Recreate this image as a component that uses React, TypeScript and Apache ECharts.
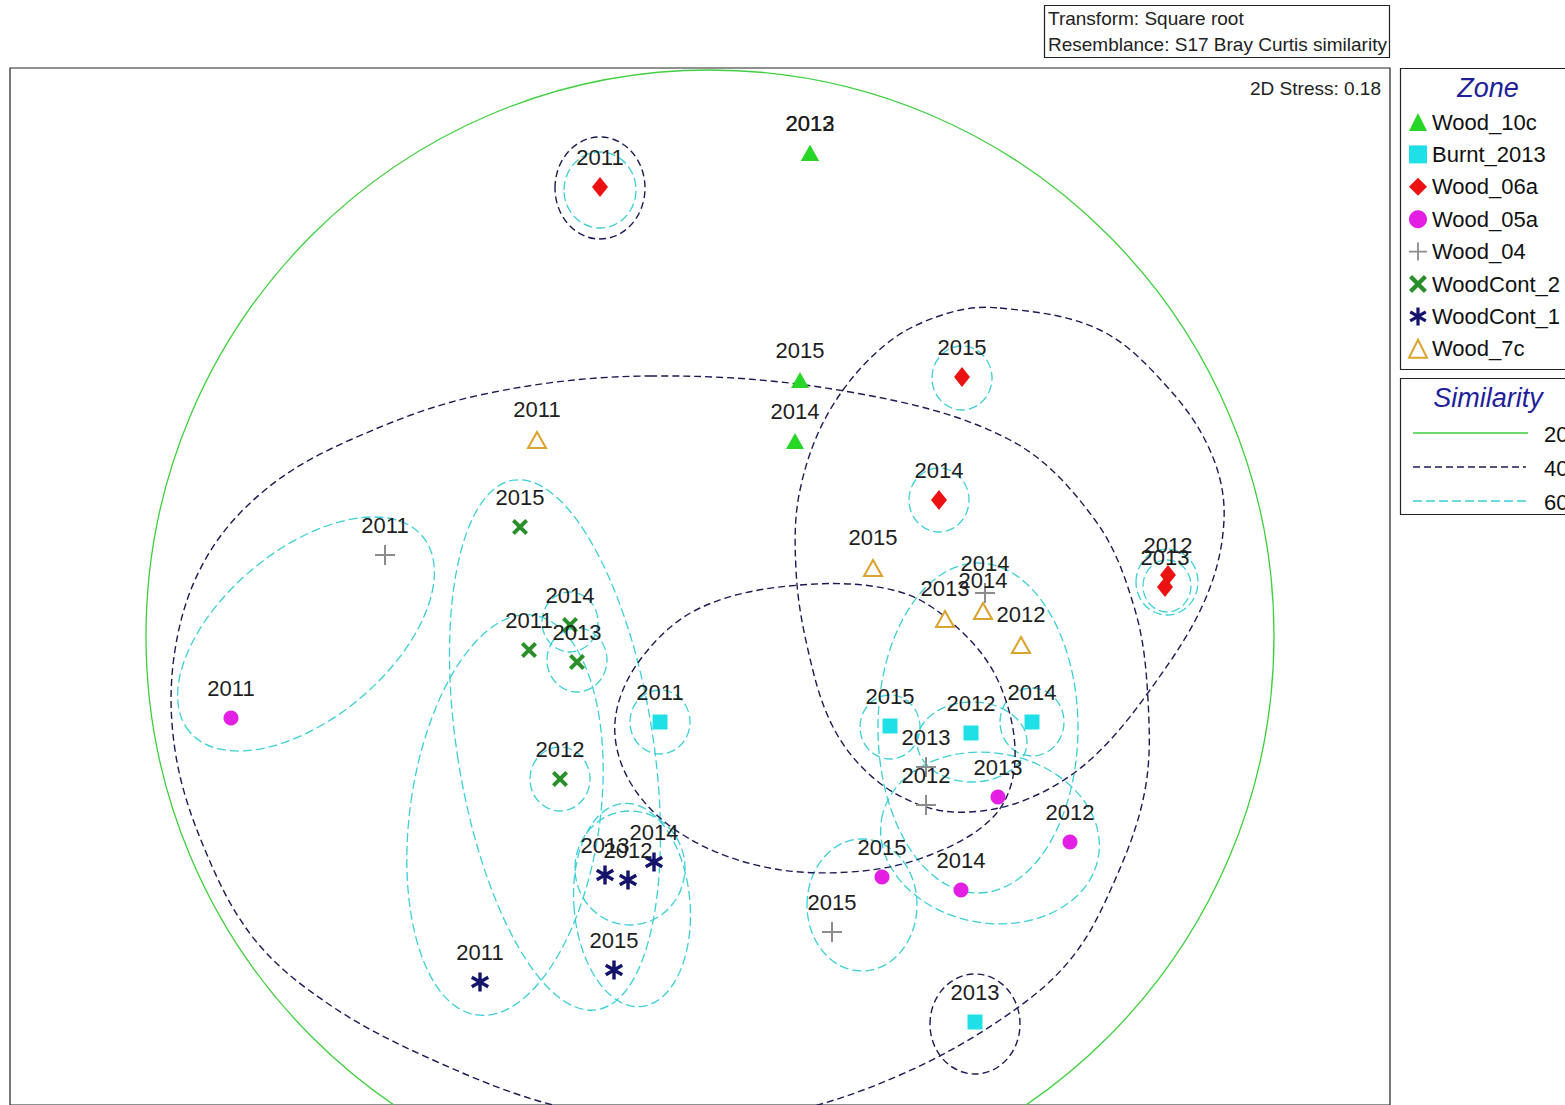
import React, { useEffect, useRef } from "react";
import * as echarts from "echarts";

const FONT = "'Liberation Sans', Arial, sans-serif";

// ---- sample points: [x, y, year] (positions) ----
const WOOD_10C = [[810, 153, "2012"], [810, 153, "2013"], [800, 380, "2015"], [795, 441, "2014"]];
const BURNT_2013 = [[660, 722, "2011"], [890, 726, "2015"], [971, 733, "2012"], [1032, 722, "2014"], [975, 1022, "2013"]];
const WOOD_06A = [[600, 187, "2011"], [962, 377, "2015"], [939, 500, "2014"], [1168, 575, "2012"], [1165, 587, "2013"]];
const WOOD_05A = [[231, 718, "2011"], [998, 797, "2013"], [1070, 842, "2012"], [882, 877, "2015"], [961, 890, "2014"]];
const WOOD_04 = [[385, 555, "2011"], [985, 593, "2014"], [926, 767, "2013"], [926, 805, "2012"], [832, 932, "2015"]];
const WOODCONT_2 = [[520, 527, "2015"], [529, 650, "2011"], [570, 625, "2014"], [577, 662, "2013"], [560, 779, "2012"]];
const WOODCONT_1 = [[605, 875, "2013"], [628, 880, "2012"], [654, 862, "2014"], [480, 982, "2011"], [614, 970, "2015"]];
const WOOD_7C = [[537, 440, "2011"], [873, 568, "2015"], [945, 619, "2013"], [983, 611, "2014"], [1021, 645, "2012"]];

const ZONES = ["Wood_10c", "Burnt_2013", "Wood_06a", "Wood_05a", "Wood_04", "WoodCont_2", "WoodCont_1", "Wood_7c"];
const SIM_LEVELS = ["20", "40", "60"];

// ---- similarity contours ----
// ellipses: [cx, cy, rx, ry, rotationDeg, level]
const CONTOUR_ELLIPSES = [
  [710, 636, 564, 566, 0, 20],
  [600, 188, 45, 51, 0, 40],
  [975, 1024, 45, 50, 0, 40],
  [600, 190, 36, 38, 0, 60],
  [962, 378, 30, 32, 0, 60],
  [939, 500, 30, 32, 0, 60],
  [1167, 582, 31, 33, 0, 60],
  [1167, 586, 24, 26, 0, 60],
  [570, 622, 28, 30, 0, 60],
  [577, 660, 30, 32, 0, 60],
  [560, 779, 30, 32, 0, 60],
  [660, 722, 30, 32, 0, 60],
  [630, 868, 55, 57, 0, 60],
  [632, 905, 58, 102, 5, 60],
  [862, 905, 55, 66, 0, 60],
  [890, 727, 30, 32, 0, 60],
  [972, 742, 55, 40, 0, 60],
  [1032, 722, 32, 34, 0, 60],
  [978, 728, 100, 165, 0, 60],
  [990, 838, 110, 85, -10, 60],
  [555, 745, 98, 268, 9, 60],
  [505, 815, 95, 202, -8, 60],
  [306, 634, 152, 84, 40, 60],
];
// free-form contours (smoothed closed outlines)
const CONTOUR_N2 = [[650, 376], [850, 392], [1010, 440], [1095, 520], [1135, 610], [1148, 700], [1145, 790], [1115, 880], [1070, 960], [1000, 1020], [900, 1075], [790, 1112], [680, 1125], [553, 1105], [433, 1060], [330, 1005], [255, 940], [205, 850], [175, 750], [175, 650], [205, 560], [265, 490], [350, 440], [480, 395]];
const CONTOUR_N3 = [[1000, 308], [1100, 330], [1170, 390], [1212, 455], [1224, 520], [1205, 600], [1150, 690], [1090, 760], [1030, 798], [970, 812], [920, 805], [870, 775], [832, 725], [808, 650], [796, 570], [800, 490], [830, 410], [885, 345], [945, 314]];
const CONTOUR_N4 = [[800, 585], [900, 592], [960, 630], [1000, 685], [1015, 760], [995, 815], [930, 855], [850, 872], [760, 866], [680, 833], [630, 782], [615, 722], [640, 660], [700, 608]];
const CONTOUR_POLYS = [CONTOUR_N2, CONTOUR_N3, CONTOUR_N4];
const CONTOUR_POLY_LEVELS = [40, 40, 40];

const LEVEL_STYLE: any = {
  20: { stroke: "#3fcf3f", lineWidth: 1.3, lineDash: null },
  40: { stroke: "#1b1b55", lineWidth: 1.4, lineDash: [7, 4] },
  60: { stroke: "#3ccfd6", lineWidth: 1.3, lineDash: [9, 4] },
};

function barsPath(angles: number[], len: number, w: number) {
  const c = len / 2;
  let d = "";
  for (const a of angles) {
    const r = (a * Math.PI) / 180;
    const ux = Math.cos(r), uy = Math.sin(r);
    const px = -uy, py = ux;
    const h = len / 2, t = w / 2;
    const pts = [
      [c + ux * h + px * t, c + uy * h + py * t],
      [c + ux * h - px * t, c + uy * h - py * t],
      [c - ux * h - px * t, c - uy * h - py * t],
      [c - ux * h + px * t, c - uy * h + py * t],
    ];
    d += "M" + pts.map((p) => p[0].toFixed(2) + "," + p[1].toFixed(2)).join("L") + "Z";
  }
  return "path://" + d;
}

const PLUS = barsPath([0, 90], 20, 2);
const CROSS = barsPath([45, 135], 20, 4.2);
const ASTER = barsPath([90, 30, 150], 20, 3.6);

export default function App() {
  const ref = useRef<HTMLDivElement>(null);
  useEffect(() => {
    document.body.style.margin = "0";
    document.body.style.overflow = "hidden";
    const chart = echarts.init(ref.current!, undefined, { renderer: "svg" });

    const mkLabel = (h: number) => ({
      show: true,
      position: "top",
      distance: 30 - h / 2 - 11,
      formatter: (p: any) => p.value[2],
      color: "#1e1e1e",
      fontSize: 22,
      lineHeight: 22,
      fontFamily: FONT,
    });
    const mk = (name: string, data: any[], symbol: string, size: any, color: string, extraItem: any = {}) => {
      const h = Array.isArray(size) ? size[1] : size;
      return {
        type: "scatter",
        name,
        data,
        symbol,
        symbolSize: size,
        symbolKeepAspect: true,
        itemStyle: { color, opacity: 1, ...extraItem },
        label: mkLabel(h),
        z: 5,
        emphasis: { disabled: true },
      };
    };

    const option: any = {
      animation: false,
      backgroundColor: "#ffffff",
      grid: { left: 10, top: 68, width: 1380, height: 1037, show: true, borderColor: "#222", borderWidth: 1.2, backgroundColor: "transparent" },
      xAxis: { type: "value", min: 10, max: 1390, show: false },
      yAxis: { type: "value", min: 68, max: 1105, inverse: true, show: false },
      legend: {
        orient: "vertical",
        left: 1403,
        top: 106,
        itemWidth: 18,
        itemHeight: 18,
        itemGap: 10.4,
        selectedMode: false,
        data: ZONES,
        textStyle: { fontSize: 22, lineHeight: 22, color: "#111", fontFamily: FONT },
      },
      graphic: [
        { type: "rect", shape: { x: 1044.5, y: 5.5, width: 345, height: 52 }, style: { fill: "#fff", stroke: "#222", lineWidth: 1.2 } },
        { type: "text", x: 1048, y: 18, style: { text: "Transform: Square root", font: "19px " + FONT, fill: "#222", verticalAlign: "middle" } },
        { type: "text", x: 1048, y: 44, style: { text: "Resemblance: S17 Bray Curtis similarity", font: "19px " + FONT, fill: "#222", verticalAlign: "middle" } },
        { type: "text", x: 1381, y: 88, style: { text: "2D Stress: 0.18", font: "19px " + FONT, fill: "#222", align: "right", verticalAlign: "middle" } },
        { type: "rect", shape: { x: 1400.5, y: 68.5, width: 200, height: 301 }, style: { fill: "none", stroke: "#222", lineWidth: 1.2 } },
        { type: "text", x: 1488, y: 88, style: { text: "Zone", font: "italic 27px " + FONT, fill: "#1f1f9a", align: "center", verticalAlign: "middle" } },
        { type: "rect", shape: { x: 1400.5, y: 378.5, width: 200, height: 136 }, style: { fill: "none", stroke: "#222", lineWidth: 1.2 } },
        { type: "text", x: 1488, y: 398, style: { text: "Similarity", font: "italic 27px " + FONT, fill: "#1f1f9a", align: "center", verticalAlign: "middle" } },
        { type: "line", shape: { x1: 1413, y1: 433, x2: 1528, y2: 433 }, style: { stroke: LEVEL_STYLE[20].stroke, lineWidth: 1.3 } },
        { type: "line", shape: { x1: 1413, y1: 467, x2: 1526, y2: 467 }, style: { stroke: LEVEL_STYLE[40].stroke, lineWidth: 1.4, lineDash: [7, 4] } },
        { type: "line", shape: { x1: 1413, y1: 501, x2: 1528, y2: 501 }, style: { stroke: LEVEL_STYLE[60].stroke, lineWidth: 1.3, lineDash: [9, 4] } },
        ...SIM_LEVELS.map((t, i) => ({ type: "text", x: 1544, y: 434 + i * 34, style: { text: t, font: "22px " + FONT, fill: "#111", verticalAlign: "middle" } })),
      ],
      series: [
        {
          type: "custom",
          name: "ellipseContours",
          data: CONTOUR_ELLIPSES,
          silent: true,
          clip: false,
          z: 2,
          renderItem: (params: any, api: any) => {
            const c = api.coord([api.value(0), api.value(1)]);
            const s = api.size([api.value(2), api.value(3)]);
            const st = LEVEL_STYLE[api.value(5)];
            return {
              type: "ellipse",
              x: c[0],
              y: c[1],
              rotation: (api.value(4) * Math.PI) / 180,
              shape: { cx: 0, cy: 0, rx: Math.abs(s[0]), ry: Math.abs(s[1]) },
              style: { fill: "none", stroke: st.stroke, lineWidth: st.lineWidth, lineDash: st.lineDash },
            };
          },
        },
        {
          type: "custom",
          name: "freeContours",
          data: CONTOUR_POLYS.map((p, i) => [p[0][0], p[0][1], i]),
          silent: true,
          clip: false,
          z: 2,
          renderItem: (params: any, api: any) => {
            const idx = api.value(2);
            const pts = CONTOUR_POLYS[idx].map((p) => api.coord(p));
            const st = LEVEL_STYLE[CONTOUR_POLY_LEVELS[idx]];
            return {
              type: "polygon",
              shape: { points: pts, smooth: 0.35 },
              style: { fill: "none", stroke: st.stroke, lineWidth: st.lineWidth, lineDash: st.lineDash },
            };
          },
        },
        mk("Wood_10c", WOOD_10C, "triangle", [18, 16], "#27d627"),
        mk("Burnt_2013", BURNT_2013, "rect", 15, "#1fe0e6"),
        mk("Wood_06a", WOOD_06A, "diamond", [16, 20], "#ec1212"),
        mk("Wood_05a", WOOD_05A, "circle", 15, "#e21fe2"),
        mk("Wood_04", WOOD_04, PLUS, 20, "#8c8c8c"),
        mk("WoodCont_2", WOODCONT_2, CROSS, 16, "#2a8f2a"),
        mk("WoodCont_1", WOODCONT_1, ASTER, 19, "#14146a"),
        mk("Wood_7c", WOOD_7C, "emptyTriangle", [18, 16], "#dba430", { borderColor: "#dba430", borderWidth: 2 }),
      ],
    };
    chart.setOption(option);
    return () => chart.dispose();
  }, []);
  return <div ref={ref} style={{ width: 1565, height: 1105, background: "#fff" }} />;
}
